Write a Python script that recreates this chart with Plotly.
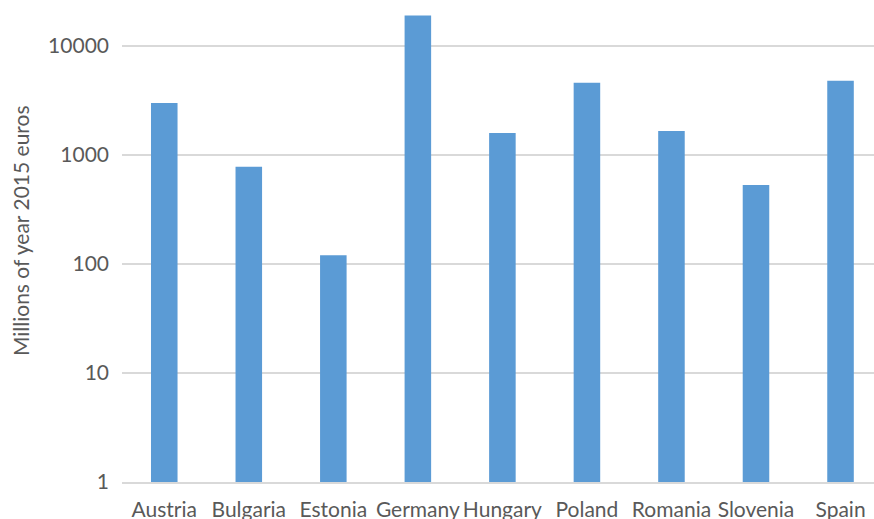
import plotly.graph_objects as go

countries = ["Austria", "Bulgaria", "Estonia", "Germany", "Hungary", "Poland", "Romania", "Slovenia", "Spain"]
values = [3000, 780, 120, 19000, 1590, 4600, 1660, 530, 4800]
y_tick_vals = [1, 10, 100, 1000, 10000]
y_tick_text = ["1", "10", "100", "1000", "10000"]
y_title = "Millions of year 2015 euros"

fig = go.Figure(go.Bar(x=list(range(len(countries))), y=values, marker=dict(color="#5B9BD5", line=dict(width=0)),
                       width=0.314))

fig.update_layout(
    width=874, height=519,
    margin=dict(l=122, r=0, t=0, b=37, autoexpand=False),
    paper_bgcolor="white", plot_bgcolor="white",
    font=dict(family="Lato, Open Sans, sans-serif", size=21, color="#595959"),
    showlegend=False,
    annotations=[dict(text=y_title, textangle=-90, xref="paper", yref="paper",
                      x=-0.134, y=0.521, xanchor="center", yanchor="middle", showarrow=False,
                      font=dict(size=21, color="#595959"))],
)
fig.update_xaxes(
    tickmode="array", tickvals=list(range(len(countries))), ticktext=countries,
    range=[-0.5, 8.396], showgrid=False, showline=True, linecolor="#D9D9D9", linewidth=1.5,
    ticks="", tickfont=dict(size=21, color="#595959"), ticklabelstandoff=8, automargin=False,
)
fig.update_yaxes(
    type="log", range=[0, 4.422], tickmode="array", tickvals=y_tick_vals, ticktext=y_tick_text,
    showgrid=True, gridcolor="#D9D9D9", gridwidth=1.5, zeroline=False, showline=False,
    ticks="", tickfont=dict(size=21, color="#595959"), ticklabelstandoff=12, automargin=False,
)
fig.write_html("out.html", config={"displayModeBar": False},
               post_script="document.body.style.margin='0';document.body.style.overflow='hidden';")
